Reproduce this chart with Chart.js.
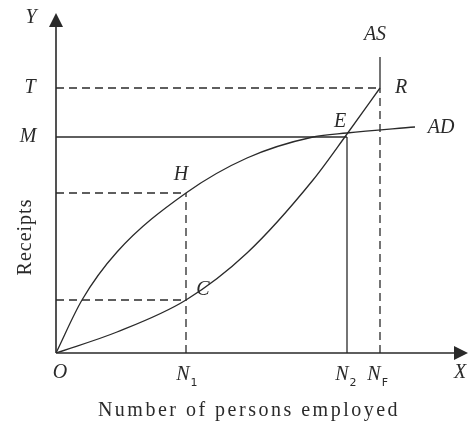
<!DOCTYPE html>
<html>
<head>
<meta charset="utf-8">
<script src="https://cdn.jsdelivr.net/npm/chart.js@4/dist/chart.umd.min.js"></script>
<style>
  html, body { margin: 0; padding: 0; background: #fff; }
  #wrap { width: 476px; height: 427px; }
</style>
</head>
<body>
<div id="wrap"><canvas id="chart"></canvas></div>
<script>
// Значения (единицы условные: 0..412 по X, 0..340 по Y)
const X_MAX = 412;
const Y_MAX = 340;

const N1 = 130, N2 = 291, NF = 324;
const T = 265, M = 216, H = 160, C = 53;
const AS_TOP = 296;

// кривая совокупного спроса AD
const adX = [0, 26, 61, 130, 191, 257, 291, 359];
const adY = [0, 53, 101, 160, 195, 216, 220, 226];

// кривая совокупного предложения AS
const asX = [0, 61, 130, 191, 257, 291, 324];
const asY = [0, 21, 53, 100, 173, 219, 265];

const toPoints = (xs, ys) => xs.map((x, i) => ({ x: x, y: ys[i] }));

const SERIF = '"Liberation Serif", "DejaVu Serif", serif';
const INK = '#2a2a2a';

function seg(points, dashed) {
    return {
        data: points,
        borderColor: INK,
        borderWidth: 1.3,
        borderDash: dashed ? [8, 5] : [],
        pointRadius: 0,
        tension: 0,
        fill: false
    };
}

// оси со стрелками и подписи
const diagramPlugin = {
    id: 'diagram',
    afterDatasetsDraw(chart) {
        const ctx = chart.ctx;
        const xs = chart.scales.x, ys = chart.scales.y;
        const x0 = xs.getPixelForValue(0), y0 = ys.getPixelForValue(0);
        const xEnd = xs.getPixelForValue(X_MAX), yEnd = ys.getPixelForValue(Y_MAX);

        ctx.save();
        ctx.strokeStyle = INK;
        ctx.fillStyle = INK;
        ctx.lineWidth = 1.6;
        ctx.beginPath();
        ctx.moveTo(x0, y0);
        ctx.lineTo(x0, yEnd + 10);
        ctx.moveTo(x0, y0);
        ctx.lineTo(xEnd - 10, y0);
        ctx.stroke();

        // стрелки
        ctx.beginPath();
        ctx.moveTo(x0, yEnd);
        ctx.lineTo(x0 - 7, yEnd + 14);
        ctx.lineTo(x0 + 7, yEnd + 14);
        ctx.closePath();
        ctx.fill();
        ctx.beginPath();
        ctx.moveTo(xEnd, y0);
        ctx.lineTo(xEnd - 14, y0 - 7);
        ctx.lineTo(xEnd - 14, y0 + 7);
        ctx.closePath();
        ctx.fill();

        ctx.textAlign = 'center';
        ctx.textBaseline = 'middle';
        ctx.font = 'italic 20px ' + SERIF;
        const px = v => xs.getPixelForValue(v);
        const py = v => ys.getPixelForValue(v);

        ctx.fillText('Y', 31, yEnd + 5);
        ctx.fillText('T', 30, py(T));
        ctx.fillText('M', 28, py(M));
        ctx.fillText('O', x0 + 4, y0 + 20);
        ctx.fillText('X', xEnd - 8, y0 + 20);
        ctx.fillText('H', px(N1) - 5, py(H) - 18);
        ctx.fillText('C', px(N1) + 17, py(C) - 10);
        ctx.fillText('E', px(N2) - 7, py(M) - 15);
        ctx.fillText('R', px(NF) + 21, py(T));
        ctx.fillText('AS', px(NF) - 5, py(AS_TOP) - 22);
        ctx.fillText('AD', 441, py(adY[adY.length - 1]) + 1);

        // подписи N с индексами
        function nLabel(xv, sub, dx) {
            const cx = px(xv) + dx;
            ctx.font = 'italic 20px ' + SERIF;
            ctx.fillText('N', cx, y0 + 22);
            ctx.font = '11px "DejaVu Sans", sans-serif';
            ctx.fillText(sub, cx + 11, y0 + 30);
        }
        nLabel(N1, '1', -3);
        nLabel(N2, '2', -5);
        nLabel(NF, 'F', -6);

        ctx.font = '20px ' + SERIF;
        ctx.letterSpacing = '2.5px';
        ctx.fillText('Number of persons employed', 249, 411);
        ctx.translate(26, 237);
        ctx.rotate(-Math.PI / 2);
        ctx.letterSpacing = '1px';
        ctx.fillText('Receipts', 0, 0);
        ctx.restore();
    }
};

new Chart(document.getElementById('chart'), {
    type: 'line',
    data: {
        datasets: [
            Object.assign(seg(toPoints(adX, adY), false), { cubicInterpolationMode: 'monotone' }),
            Object.assign(seg(toPoints(asX, asY), false), { cubicInterpolationMode: 'monotone' }),
            seg([{ x: NF, y: T }, { x: NF, y: AS_TOP }], false),
            seg([{ x: NF, y: 0 }, { x: NF, y: T }], true),
            seg([{ x: 0, y: T }, { x: NF, y: T }], true),
            seg([{ x: 0, y: M }, { x: N2, y: M }], false),
            seg([{ x: N2, y: 0 }, { x: N2, y: M }], false),
            seg([{ x: 0, y: H }, { x: N1, y: H }], true),
            seg([{ x: N1, y: 0 }, { x: N1, y: H }], true),
            seg([{ x: 0, y: C }, { x: N1, y: C }], true)
        ]
    },
    options: {
        responsive: true,
        maintainAspectRatio: false,
        animation: false,
        layout: { padding: { left: 56, right: 8, top: 13, bottom: 74 } },
        scales: {
            x: { type: 'linear', min: 0, max: X_MAX, display: false },
            y: { type: 'linear', min: 0, max: Y_MAX, display: false }
        },
        plugins: {
            legend: { display: false },
            tooltip: { enabled: false }
        }
    },
    plugins: [diagramPlugin]
});
</script>
</body>
</html>
